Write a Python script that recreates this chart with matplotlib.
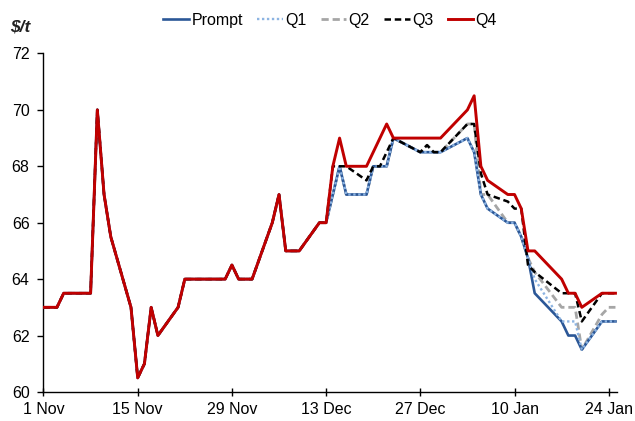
import pandas as pd
import numpy as np
import matplotlib
matplotlib.use('Agg')
import matplotlib.pyplot as plt
import matplotlib.dates as mdates

# trading days 1 Nov 2022 - 25 Jan 2023 (US holidays skipped)
holidays = ['2022-11-24', '2022-12-26', '2023-01-02', '2023-01-16']
dates = pd.bdate_range('2022-11-01', '2023-01-25', freq='C', holidays=holidays)

# all contracts identical up to 13 Dec
common = [63, 63, 63, 63.5, 63.5, 63.5, 70, 67, 65.5, 63, 60.5, 61, 63, 62, 63,
          64, 64, 64, 64, 64.5, 64,
          64, 64, 66, 67, 65, 65, 65, 66, 66]

# 14 Dec onwards
prompt_tail = [67, 68, 67, 67, 68, 68, 68, 69, 68.5, 68.5, 68.5, 68.5,
               69, 68.5, 67, 66.5, 66, 66, 65.5, 64.75, 63.5, 62.5, 62, 62, 61.5, 62.5, 62.5, 62.5]
q1_tail = [67, 68, 67, 67, 68, 68, 68, 69, 68.5, 68.5, 68.5, 68.5,
           69, 68.5, 67, 66.5, 66, 66, 65.5, 64.75, 64, 62.5, 62.5, 62.5, 61.5, 62.5, 62.5, 62.5]
q2_tail = [67, 68, 67, 67, 68, 68, 68, 69, 68.5, 68.75, 68.5, 68.5,
           69.5, 69.5, 67, 67, 66, 66, 65.5, 64.75, 64.25, 63, 63, 63, 61.5, 62.75, 63, 63]
q3_tail = [68, 68, 68, 67.5, 68, 68, 68.5, 69, 68.5, 68.75, 68.5, 68.5,
           69.5, 69.5, 67.75, 67, 66.75, 66.5, 66.5, 64.5, 64.25, 63.5, 63.5, 63.5, 62.5, 63.5, 63.5, 63.5]
q4_tail = [68, 69, 68, 68, 68.5, 69, 69.5, 69, 69, 69, 69, 69,
           70, 70.5, 68, 67.5, 67, 67, 66.5, 65, 65, 64, 63.5, 63.5, 63, 63.5, 63.5, 63.5]

series = {
    'Prompt': common + prompt_tail,
    'Q1': common + q1_tail,
    'Q2': common + q2_tail,
    'Q3': common + q3_tail,
    'Q4': common + q4_tail,
}

styles = {
    'Prompt': dict(color='#2b5797', lw=1.9, ls='-', zorder=3),
    'Q1': dict(color='#8db4e2', lw=1.7, ls=(0, (1, 1.1)), zorder=4),
    'Q2': dict(color='#a6a6a6', lw=2.0, ls=(0, (2.6, 1.4)), zorder=2),
    'Q3': dict(color='#000000', lw=1.8, ls=(0, (2.6, 1.5)), zorder=5),
    'Q4': dict(color='#c00000', lw=2.1, ls='-', zorder=6),
}

plt.rcParams['font.family'] = ['Liberation Sans', 'DejaVu Sans']

fig = plt.figure(figsize=(6.35, 4.21), dpi=100)
ax = fig.add_axes([0.0685, 0.069, 0.9025, 0.804])

handles = []
for name, vals in series.items():
    h, = ax.plot(dates, vals, label=name, **styles[name])
    handles.append(h)

ax.set_ylim(60, 72)
ax.set_yticks(np.arange(60, 73, 2))
ax.set_xlim(dates[0], dates[-1] + pd.Timedelta(hours=4))
xticks = pd.date_range('2022-11-01', '2023-01-24', freq='14D')
ax.set_xticks(xticks)
ax.xaxis.set_major_formatter(mdates.DateFormatter('%-d %b'))

for s in ['top', 'right']:
    ax.spines[s].set_visible(False)
for s in ['left', 'bottom']:
    ax.spines[s].set_linewidth(1.0)
ax.tick_params(axis='y', direction='out', length=4, width=1, labelsize=11.5, pad=6)
ax.tick_params(axis='x', direction='inout', length=6, width=1, labelsize=11.5, pad=4)

fig.text(0.016, 0.935, r'\$/t', fontsize=12.5, fontweight='bold', fontstyle='italic',
         color='#222222', va='center')

fig.legend(handles=handles, loc='center', bbox_to_anchor=(0.52, 0.952), ncol=5,
           frameon=False, fontsize=11.5, handlelength=1.6, handletextpad=0.15,
           columnspacing=0.9, borderaxespad=0)

fig.savefig('out.png', dpi=100)
